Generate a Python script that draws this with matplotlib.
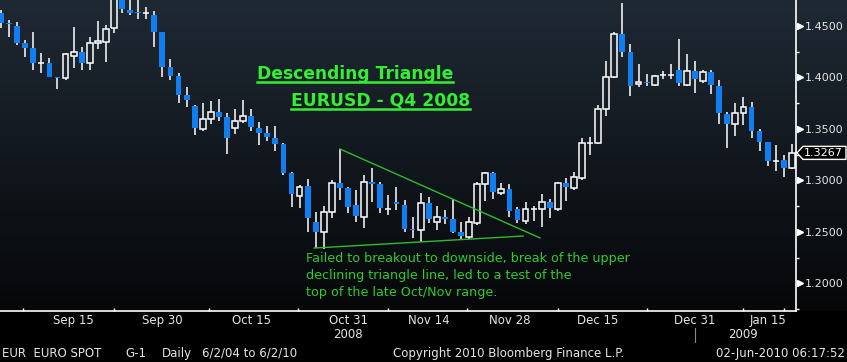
import matplotlib
matplotlib.use("Agg")
import matplotlib.pyplot as plt
import numpy as np
from matplotlib.patches import Rectangle, Polygon
from matplotlib.lines import Line2D
from matplotlib.transforms import blended_transform_factory

W, H = 847, 362

# EURUSD daily candles, early Sep 2008 -> mid Jan 2009
opens = [1.4627, 1.4529, 1.4500, 1.4335, 1.4286, 1.4138, 1.4141, 1.4005, 1.3995, 1.4209,
         1.4248, 1.4141, 1.4335, 1.4345, 1.4481, 1.4782, 1.4656, 1.4627, 1.4622, 1.4607,
         1.4442, 1.4102, 1.4014, 1.3830, 1.3723, 1.3499, 1.3596, 1.3664, 1.3616, 1.3509,
         1.3577, 1.3625, 1.3509, 1.3460, 1.3412, 1.3353, 1.3072, 1.2848, 1.2945, 1.2595,
         1.2498, 1.2692, 1.2974, 1.2926, 1.2760, 1.2644, 1.2984, 1.2965, 1.2721, 1.2790,
         1.2760, 1.2527, 1.2517, 1.2780, 1.2595, 1.2644, 1.2624, 1.2498, 1.2449, 1.2585,
         1.2965, 1.3072, 1.2877, 1.2916, 1.2721, 1.2605, 1.2721, 1.2721, 1.2790, 1.2721,
         1.2974, 1.2926, 1.3023, 1.3363, 1.3363, 1.3694, 1.4005, 1.4423, 1.4248, 1.3937,
         1.3956, 1.3927, 1.4024, 1.4024, 1.4073, 1.3927, 1.4063, 1.3966, 1.4053, 1.3917,
         1.3645, 1.3548, 1.3655, 1.3713, 1.3480, 1.3373, 1.3188, 1.3198, 1.3120]
highs = [1.4656, 1.4559, 1.4539, 1.4364, 1.4442, 1.4238, 1.4189, 1.4005, 1.4238, 1.4491,
         1.4296, 1.4393, 1.4549, 1.4510, 1.4850, 1.4831, 1.4772, 1.4763, 1.4685, 1.4646,
         1.4442, 1.4180, 1.4043, 1.3907, 1.3732, 1.3752, 1.3771, 1.3791, 1.3655, 1.3694,
         1.3781, 1.3694, 1.3567, 1.3528, 1.3528, 1.3363, 1.3081, 1.2955, 1.3013, 1.2692,
         1.2751, 1.3003, 1.3305, 1.2935, 1.2906, 1.3052, 1.3120, 1.2984, 1.2858, 1.2935,
         1.2809, 1.2644, 1.2877, 1.2838, 1.2751, 1.2712, 1.2819, 1.2595, 1.2644, 1.2984,
         1.3081, 1.3081, 1.2974, 1.2965, 1.2741, 1.2790, 1.2751, 1.2867, 1.2819, 1.2984,
         1.3023, 1.3081, 1.3412, 1.3421, 1.3732, 1.4160, 1.4442, 1.4724, 1.4325, 1.4131,
         1.4034, 1.4024, 1.4063, 1.4131, 1.4374, 1.4228, 1.4160, 1.4073, 1.4073, 1.3975,
         1.3664, 1.3752, 1.3810, 1.3762, 1.3499, 1.3373, 1.3344, 1.3246, 1.3353]
lows = [1.4481, 1.4393, 1.4316, 1.4199, 1.4073, 1.4043, 1.4005, 1.3888, 1.3975, 1.4092,
        1.4073, 1.4073, 1.4277, 1.4150, 1.4432, 1.4627, 1.4607, 1.4568, 1.4568, 1.4296,
        1.4005, 1.3975, 1.3752, 1.3713, 1.3441, 1.3480, 1.3548, 1.3577, 1.3256, 1.3451,
        1.3557, 1.3480, 1.3344, 1.3383, 1.3285, 1.3052, 1.2741, 1.2731, 1.2498, 1.2342,
        1.2333, 1.2634, 1.2809, 1.2683, 1.2595, 1.2537, 1.2790, 1.2683, 1.2663, 1.2712,
        1.2498, 1.2440, 1.2401, 1.2585, 1.2517, 1.2576, 1.2488, 1.2430, 1.2430, 1.2566,
        1.2799, 1.2819, 1.2858, 1.2644, 1.2585, 1.2576, 1.2605, 1.2547, 1.2634, 1.2702,
        1.2799, 1.2906, 1.3003, 1.3246, 1.3353, 1.3625, 1.3995, 1.4199, 1.3820, 1.3907,
        1.3917, 1.3917, 1.3985, 1.3985, 1.3917, 1.3917, 1.3849, 1.3946, 1.3839, 1.3548,
        1.3314, 1.3431, 1.3538, 1.3412, 1.3285, 1.3140, 1.3091, 1.3033, 1.3110]
closes = [1.4529, 1.4515, 1.4335, 1.4286, 1.4141, 1.4141, 1.4005, 1.3995, 1.4228, 1.4248,
          1.4141, 1.4335, 1.4354, 1.4471, 1.4802, 1.4666, 1.4627, 1.4622, 1.4627, 1.4442,
          1.4102, 1.4014, 1.3830, 1.3781, 1.3509, 1.3596, 1.3664, 1.3616, 1.3412, 1.3577,
          1.3625, 1.3519, 1.3460, 1.3421, 1.3353, 1.3072, 1.2867, 1.2935, 1.2634, 1.2498,
          1.2692, 1.2974, 1.2926, 1.2741, 1.2653, 1.2984, 1.2965, 1.2731, 1.2721, 1.2770,
          1.2527, 1.2517, 1.2780, 1.2624, 1.2644, 1.2624, 1.2498, 1.2459, 1.2595, 1.2965,
          1.3072, 1.2887, 1.2916, 1.2702, 1.2615, 1.2721, 1.2725, 1.2790, 1.2731, 1.2974,
          1.2935, 1.3033, 1.3363, 1.3367, 1.3694, 1.4005, 1.4423, 1.4248, 1.3917, 1.3956,
          1.3946, 1.4014, 1.4027, 1.4027, 1.3946, 1.4063, 1.3985, 1.4053, 1.3927, 1.3655,
          1.3548, 1.3655, 1.3713, 1.3480, 1.3373, 1.3188, 1.3192, 1.3120, 1.3267]

date_labels = ["Sep 15", "Sep 30", "Oct 15", "Oct 31", "Nov 14", "Nov 28", "Dec 15", "Dec 31", "Jan 15"]
date_label_pos = [9, 20, 31, 43, 53, 63, 74, 86, 95]
date_tick_pos = [2.7, 9, 14, 20, 25.8, 31, 36.8, 43, 48, 53, 57.8, 63, 69, 74, 80, 86, 92, 97]
year_labels = ["2008", "2009"]
year_pos = [43, 92]
year_split = 86

price_ticks = [1.20, 1.25, 1.30, 1.35, 1.40, 1.45]
price_minor = [1.175, 1.225, 1.275, 1.325, 1.375, 1.425]
last_price = 1.3267

# triangle trend lines (candle index, price)
upper_x = [42, 66.8]
upper_y = [1.3305, 1.2440]
lower_x = [38.8, 64.7]
lower_y = [1.2342, 1.2459]

title1 = "Descending Triangle"
title2 = "EURUSD - Q4 2008"
note_lines = ["Failed to breakout to downside, break of the upper",
              "declining triangle line, led to a test of the",
              "top of the late Oct/Nov range."]

BLUE = "#0f7ef0"
GREEN = "#33ee33"
NOTE_GREEN = "#2ecc2e"
LINE_GREEN = "#2fba2f"
TXT = "#e6e6e6"

fig = plt.figure(figsize=(W / 100, H / 100), dpi=100)
fig.patch.set_facecolor("black")

# background gradient
bg = fig.add_axes([0, 0, 1, 1], zorder=-1)
grad = np.zeros((H, 1, 3))
top = np.array([31, 41, 52]) / 255
bot = np.array([6, 7, 9]) / 255
for r in range(H):
    if r < 311:
        t = r / 310
        grad[r, 0] = top * (1 - t) + bot * t
bg.imshow(grad, aspect="auto", extent=[0, 1, 0, 1], interpolation="bilinear")
bg.axis("off")

ax_w = 796
ax_h = 311
ax = fig.add_axes([0, (H - ax_h) / H, ax_w / W, ax_h / H])
ax.set_facecolor("none")
n = len(opens)
step = 8.07
ax.set_xlim(-1 / step, 795 / step)
ax.set_ylim(1.17303, 1.47527)

bw = 0.72
for i in range(n):
    o, h, l, c = opens[i], highs[i], lows[i], closes[i]
    lo_b, hi_b = min(o, c), max(o, c)
    ax.plot([i, i], [l, lo_b], color="white", lw=1.1, solid_capstyle="butt", zorder=2)
    ax.plot([i, i], [hi_b, h], color="white", lw=1.1, solid_capstyle="butt", zorder=2)
    if c >= o:
        ax.add_patch(Rectangle((i - bw / 2, lo_b), bw, max(hi_b - lo_b, 0.0002),
                               facecolor="none", edgecolor="white", lw=1.1, zorder=3))
    else:
        ax.add_patch(Rectangle((i - bw / 2, lo_b), bw, max(hi_b - lo_b, 0.0014),
                               facecolor=BLUE, edgecolor="none", zorder=3))

ax.plot(upper_x, upper_y, color=LINE_GREEN, lw=1.0, zorder=4)
ax.plot(lower_x, lower_y, color=LINE_GREEN, lw=1.0, zorder=4)

for s in ["left", "top"]:
    ax.spines[s].set_visible(False)
for s in ["bottom", "right"]:
    ax.spines[s].set_color("white")
    ax.spines[s].set_linewidth(1.2)

# x axis
ax.set_xticks(date_label_pos)
ax.set_xticklabels(date_labels)
ax.set_xticks(date_tick_pos, minor=True)
ax.tick_params(axis="x", which="major", length=0, pad=2, labelsize=8.5, labelcolor=TXT)
ax.tick_params(axis="x", which="minor", direction="in", length=2.5, width=1, color="white")

bt = blended_transform_factory(ax.transData, ax.transAxes)
for lab, p in zip(year_labels, year_pos):
    ax.text(p, (ax_h - 338) / ax_h, lab, transform=bt, ha="center", va="baseline",
            fontsize=8.5, color=TXT, clip_on=False)
ax.plot([year_split, year_split], [(ax_h - 328) / ax_h, (ax_h - 342) / ax_h], transform=bt,
        color="#888888", lw=0.8, clip_on=False)

# y axis on the right
ax.yaxis.tick_right()
ax.set_yticks(price_ticks)
ax.set_yticklabels(["%.4f" % p for p in price_ticks])
ax.set_yticks(price_minor, minor=True)
ax.tick_params(axis="y", which="major", length=0, pad=6.5, labelsize=8, labelcolor=TXT)
ax.tick_params(axis="y", which="minor", direction="out", length=2.5, width=1, color="white")
rt = blended_transform_factory(ax.transAxes, ax.transData)
ax.plot([1 + 4 / ax_w] * len(price_ticks), price_ticks, ">", color="white", ms=5,
        mec="white", transform=rt, clip_on=False)

# last price box
yl = ax.transData.transform((0, last_price))[1]
yp = H - yl
pts = [(797, yp), (803, yp - 6.5), (846, yp - 6.5), (846, yp + 6.5), (803, yp + 6.5)]
fig.add_artist(Polygon([(x / W, 1 - y / H) for x, y in pts], closed=True,
                       facecolor="black", edgecolor="white", lw=1, transform=fig.transFigure))
fig.text(804 / W, 1 - yp / H, "%.4f" % last_price, color="white", fontsize=8,
         ha="left", va="center")


def ftext(x, y, s, **kw):
    return fig.text(x / W, 1 - y / H, s, **kw)


t1 = ftext(257, 79, title1, color=GREEN, fontsize=12.3, fontweight="bold", va="baseline")
t2 = ftext(291, 106, title2, color=GREEN, fontsize=12.3, fontweight="bold", va="baseline")
for y, s in zip([262, 279, 296], note_lines):
    ftext(306, y, s, color=NOTE_GREEN, fontsize=9.2, va="baseline")

ftext(2, 357, "EUR  EURO SPOT", color=TXT, fontsize=8.5, va="baseline")
ftext(125, 357, "G-1", color=TXT, fontsize=8.5, va="baseline")
ftext(162, 357, "Daily", color=TXT, fontsize=8.5, va="baseline")
ftext(202, 357, "6/2/04 to 6/2/10", color=TXT, fontsize=8.5, va="baseline")
ftext(393, 357, "Copyright 2010 Bloomberg Finance L.P.", color=TXT, fontsize=8.5, va="baseline")
ftext(845, 357, "02-Jun-2010 06:17:52", color=TXT, fontsize=8.5, va="baseline", ha="right")

fig.canvas.draw()
r = fig.canvas.get_renderer()
for t, uy in [(t1, 81.5), (t2, 108.5)]:
    bb = t.get_window_extent(r)
    fig.add_artist(Line2D([bb.x0 / W, bb.x1 / W], [1 - uy / H, 1 - uy / H], color=GREEN,
                          lw=1.8, transform=fig.transFigure))

fig.savefig("out.png", dpi=100, facecolor="black")
